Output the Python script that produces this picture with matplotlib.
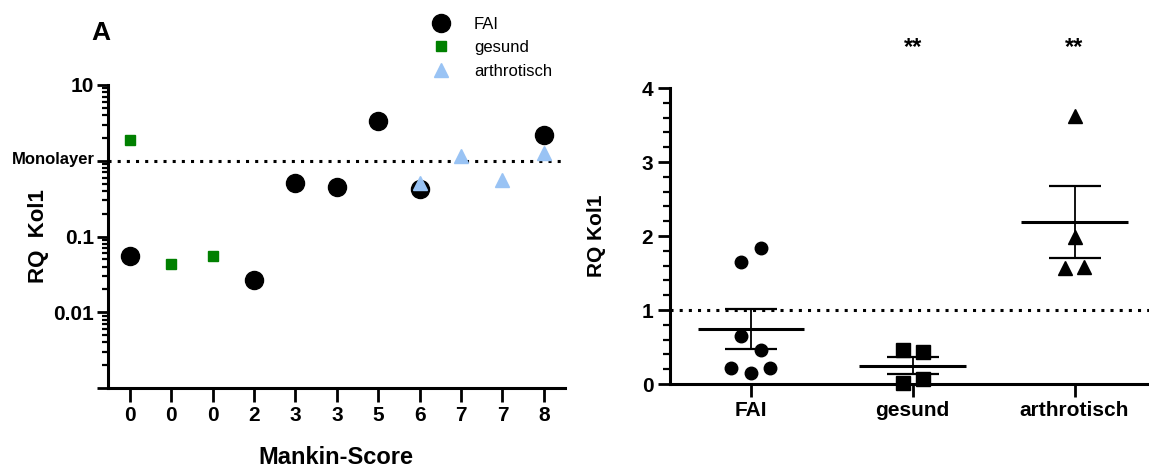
import numpy as np
import matplotlib
matplotlib.use("Agg")
import matplotlib.pyplot as plt
from matplotlib.ticker import LogLocator, NullFormatter, MultipleLocator, FixedLocator

plt.rcParams["font.family"] = ["Liberation Sans", "DejaVu Sans"]
plt.rcParams["font.weight"] = "bold"
plt.rcParams["axes.labelweight"] = "bold"

# Panel A: RQ Kol1 per sample, ordered by Mankin score
mankin_labels = ["0", "0", "0", "2", "3", "3", "5", "6", "7", "7", "8"]
fai_idx = [0, 3, 4, 5, 6, 7, 10]
fai_rq = [0.056, 0.027, 0.51, 0.45, 3.35, 0.43, 2.2]
gesund_idx = [0, 1, 2]
gesund_rq = [1.9, 0.044, 0.056]
arthro_idx = [7, 8, 9, 10]
arthro_rq = [0.51, 1.16, 0.55, 1.27]

# Panel B: linear RQ Kol1 per group
groups = ["FAI", "gesund", "arthrotisch"]
group_fai = [0.22, 0.15, 0.21, 0.65, 0.46, 1.65, 1.84]
group_gesund = [0.46, 0.43, 0.02, 0.07]
group_arthro = [3.62, 1.99, 1.57, 1.58]
significance = ["", "**", "**"]

green = "#008000"
lightblue = "#99c3f4"


def swarm_offsets(values, row_height, step):
    # bin points into rows and spread each row symmetrically around the centre
    values = np.asarray(values)
    order = np.argsort(values, kind="stable")
    rows = []
    for i in order:
        if rows and values[i] - values[rows[-1][0]] < row_height:
            rows[-1].append(i)
        else:
            rows.append([i])
    offsets = np.zeros(len(values))
    for row in rows:
        row = sorted(row)
        for k, i in enumerate(row):
            offsets[i] = (k - (len(row) - 1) / 2) * step
    return offsets


fig = plt.figure(figsize=(11.49, 4.67), dpi=100)

# ---- left panel ----
ax1 = fig.add_axes([108 / 1149, 79 / 467, 456.5 / 1149, 303 / 467])
ax1.set_yscale("log")
ax1.set_ylim(0.001, 10)
ax1.set_xlim(-0.53, 10.5)

ax1.axhline(1, color="black", lw=2.2, ls=(0, (1, 2)), zorder=1)
ax1.plot(fai_idx, fai_rq, "o", color="black", ms=13, label="FAI",
         clip_on=False, zorder=3)
ax1.plot(gesund_idx, gesund_rq, "s", color=green, ms=7, label="gesund",
         clip_on=False, zorder=4)
ax1.plot(arthro_idx, arthro_rq, "^", color=lightblue, ms=9.5,
         label="arthrotisch", clip_on=False, zorder=5)

ax1.yaxis.set_major_locator(FixedLocator([0.001, 0.01, 0.1, 1, 10]))
ax1.set_yticklabels(["", "0.01", "0.1", "", "10"])
ax1.yaxis.set_minor_locator(LogLocator(base=10, subs=np.arange(2, 10)))
ax1.yaxis.set_minor_formatter(NullFormatter())
ax1.set_xticks(range(len(mankin_labels)))
ax1.set_xticklabels(mankin_labels)

for s in ["top", "right"]:
    ax1.spines[s].set_visible(False)
for s in ["left", "bottom"]:
    ax1.spines[s].set_linewidth(2.2)
ax1.tick_params(axis="y", which="major", length=8, width=2, labelsize=15, pad=2)
ax1.tick_params(axis="y", which="minor", length=4.5, width=1.6)
ax1.tick_params(axis="x", length=10, width=2, labelsize=15, pad=3)

ax1.set_ylabel("RQ  Kol1", fontsize=16)
ax1.yaxis.set_label_coords(-0.13, 0.5)
ax1.set_xlabel("Mankin-Score", fontsize=17)
ax1.xaxis.set_label_coords(0.5, -0.19)

fig.text(12 / 1149, 1 - 160 / 467, "Monolayer", fontsize=12, ha="left",
         va="center")
fig.text(101 / 1149, 1 - 33 / 467, "A", fontsize=19, ha="center", va="center")

fig.legend(loc="upper left", bbox_to_anchor=(409 / 1149, 1 - 2 / 467),
           frameon=False, handletextpad=1.0, labelspacing=0.5,
           prop={"weight": "normal", "size": 12})

# ---- right panel ----
ax2 = fig.add_axes([670 / 1149, 83 / 467, 479 / 1149, 296 / 467])
ax2.set_ylim(0, 4)
ax2.set_xlim(-0.5, 2.46)
ax2.axhline(1, color="black", lw=2.2, ls=(0, (1, 2)), zorder=1)

markers = ["o", "s", "^"]
sizes = [9, 9.5, 9.5]
for i, vals in enumerate([group_fai, group_gesund, group_arthro]):
    vals = np.asarray(vals)
    xs = i + swarm_offsets(vals, 0.24, 0.121)
    ax2.plot(xs, vals, markers[i], color="black", ms=sizes[i], clip_on=False,
             zorder=3)
    mean = vals.mean()
    sem = vals.std(ddof=1) / np.sqrt(len(vals))
    ax2.hlines(mean, i - 0.33, i + 0.33, color="black", lw=2.2, zorder=4)
    ax2.errorbar(i, mean, yerr=sem, fmt="none", ecolor="black",
                 elinewidth=1.3, capsize=18.5, capthick=1.6, zorder=4)
    if significance[i]:
        ax2.text(i, 4.55, significance[i], ha="center", va="center",
                 fontsize=17, clip_on=False)

ax2.set_yticks(range(5))
ax2.yaxis.set_minor_locator(MultipleLocator(0.2))
ax2.set_xticks(range(len(groups)))
ax2.set_xticklabels(groups)

for s in ["top", "right"]:
    ax2.spines[s].set_visible(False)
for s in ["left", "bottom"]:
    ax2.spines[s].set_linewidth(2.2)
ax2.tick_params(axis="y", which="major", length=9, width=2, labelsize=15, pad=3)
ax2.tick_params(axis="y", which="minor", length=5, width=1.6)
ax2.tick_params(axis="x", length=9, width=2, labelsize=15, pad=3)

ax2.set_ylabel("RQ Kol1", fontsize=15)
ax2.yaxis.set_label_coords(-0.134, 0.5)

fig.savefig("out.png", dpi=100)
